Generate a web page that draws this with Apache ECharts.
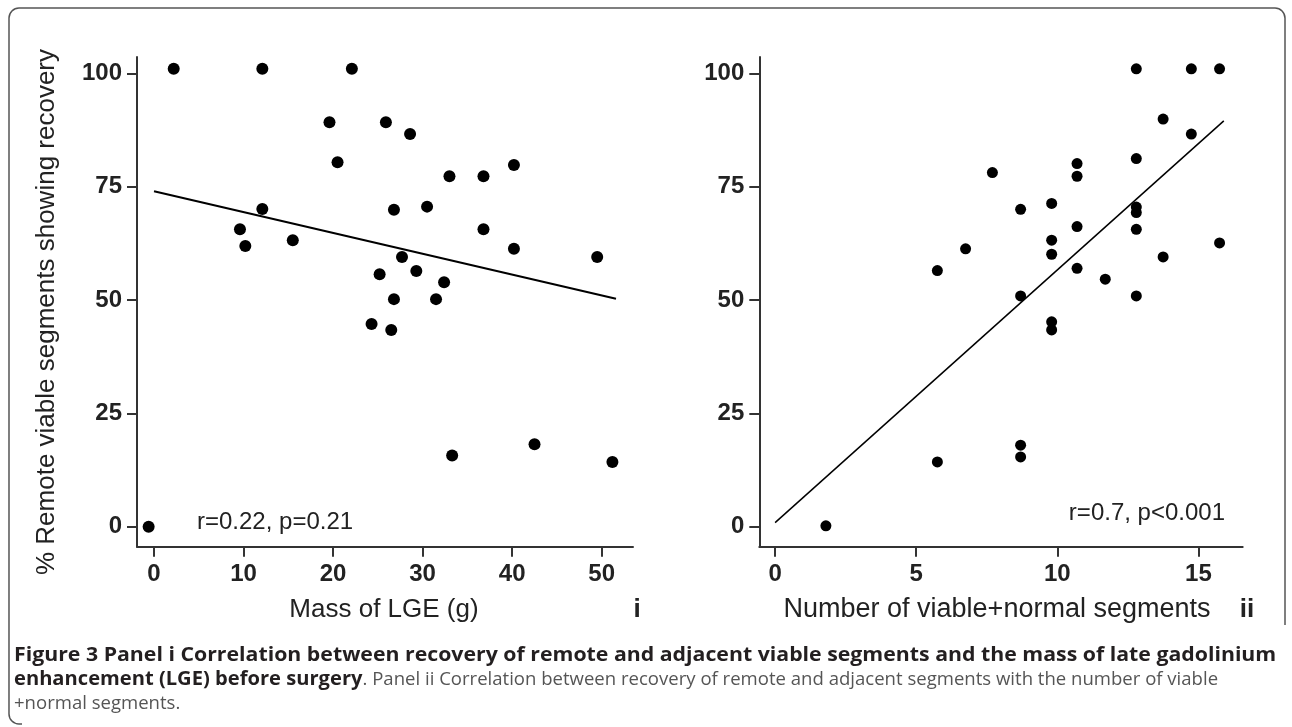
<!DOCTYPE html>
<html>
<head>
<meta charset="utf-8">
<script src="https://cdn.jsdelivr.net/npm/echarts@6/dist/echarts.min.js"></script>
<style>
html,body{margin:0;padding:0;background:#fff;}
#chart{width:1292px;height:727px;}
</style>
</head>
<body>
<div id="chart"></div>
<script>
// Panel i: mass of LGE (g) vs % recovery
const massLGE = [2.2, 12.1, 22.1, 19.6, 25.9, 28.6, 20.5, 40.2, 33.0, 36.8, 12.1, 26.8, 30.5, 9.6, 36.8, 10.2, 15.5, 40.2, 27.7, 49.5, 25.2, 29.3, 32.4, 26.8, 31.5, 24.3, 26.5, 33.3, 42.5, 51.2, -0.6];
const recoveryI = [101, 101, 101, 89.2, 89.2, 86.6, 80.4, 79.8, 77.3, 77.3, 70.1, 69.9, 70.6, 65.6, 65.6, 61.9, 63.2, 61.3, 59.5, 59.5, 55.7, 56.4, 53.9, 50.2, 50.2, 44.7, 43.4, 15.7, 18.2, 14.3, 0];
const fitIX = [0, 51.6];
const fitIY = [74.0, 50.3];

// Panel ii: number of viable+normal segments vs % recovery
const segmentsII = [12.8, 14.75, 15.75, 13.75, 14.75, 12.8, 7.7, 10.7, 10.7, 9.8, 8.7, 12.8, 12.8, 10.7, 12.8, 9.8, 15.75, 6.75, 9.8, 13.75, 5.75, 10.7, 11.7, 8.7, 12.8, 9.8, 9.8, 8.7, 8.7, 5.75, 1.8];
const recoveryII = [101, 101, 101, 89.9, 86.6, 81.2, 78.1, 80.1, 77.3, 71.3, 70.0, 70.5, 69.3, 66.2, 65.6, 63.2, 62.6, 61.3, 60.1, 59.5, 56.5, 57.0, 54.6, 50.9, 50.9, 45.2, 43.4, 18.0, 15.4, 14.3, 0.2];
const fitIIX = [0, 15.9];
const fitIIY = [0.9, 89.5];

const yTicks = [0, 25, 50, 75, 100];
const xTicksI = [0, 10, 20, 30, 40, 50];
const xTicksII = [0, 5, 10, 15];

const zip = (a, b) => a.map((v, i) => [v, b[i]]);

const AX = '#333';
const LBL = '#222';
const tickFont = {fontFamily: "'Liberation Sans', Arial, sans-serif", fontWeight: 'bold', fontSize: 24, color: LBL};

function xAxisCfg(idx, min, max, ticks) {
  return {
    type: 'value', gridIndex: idx, min: min, max: max,
    axisLine: {show: true, onZero: false, lineStyle: {color: AX, width: 2}},
    axisTick: {show: true, length: 10, customValues: ticks, lineStyle: {color: AX, width: 2}},
    axisLabel: Object.assign({show: true, margin: 16, customValues: ticks}, tickFont),
    splitLine: {show: false}
  };
}
function yAxisCfg(idx) {
  return {
    type: 'value', gridIndex: idx, min: -4.4, max: 103.6,
    axisLine: {show: true, onZero: false, lineStyle: {color: AX, width: 2}},
    axisTick: {show: true, length: 10, customValues: yTicks, lineStyle: {color: AX, width: 2}},
    axisLabel: Object.assign({show: true, margin: 15, customValues: yTicks}, tickFont),
    splitLine: {show: false}
  };
}

const chart = echarts.init(document.getElementById('chart'), null, {renderer: 'canvas'});
const arial = "'Liberation Sans', Arial, sans-serif";
const capFont = "'Open Sans', 'Noto Sans', sans-serif";

chart.setOption({
  backgroundColor: '#fff',
  animation: false,
  grid: [
    {left: 137, top: 57, width: 496, height: 489.7, containLabel: false, outerBoundsMode: 'none'},
    {left: 759.3, top: 57, width: 483.4, height: 489.7, containLabel: false, outerBoundsMode: 'none'}
  ],
  xAxis: [xAxisCfg(0, -1.9, 53.5, xTicksI), xAxisCfg(1, -0.56, 16.57, xTicksII)],
  yAxis: [yAxisCfg(0), yAxisCfg(1)],
  series: [
    {type: 'line', xAxisIndex: 0, yAxisIndex: 0, data: zip(fitIX, fitIY), symbol: 'none', lineStyle: {color: '#000', width: 2}, z: 2},
    {type: 'scatter', xAxisIndex: 0, yAxisIndex: 0, data: zip(massLGE, recoveryI), symbolSize: 12, itemStyle: {color: '#000', opacity: 1}, z: 3},
    {type: 'line', xAxisIndex: 1, yAxisIndex: 1, data: zip(fitIIX, fitIIY), symbol: 'none', lineStyle: {color: '#000', width: 1.5}, z: 2},
    {type: 'scatter', xAxisIndex: 1, yAxisIndex: 1, data: zip(segmentsII, recoveryII), symbolSize: 11, itemStyle: {color: '#000', opacity: 1}, z: 3}
  ],
  graphic: [
    {type: 'rect', z: 0, shape: {x: 9, y: 8, width: 1276, height: 716, r: 10}, style: {fill: null, stroke: '#555', lineWidth: 1.5}},
    {type: 'rect', z: 1, shape: {x: 1200, y: 625, width: 92, height: 102}, style: {fill: '#fff'}},
    {type: 'rect', z: 1, shape: {x: 22, y: 721, width: 1270, height: 6}, style: {fill: '#fff'}},
    {type: 'text', z: 10, x: 47, y: 312, rotation: Math.PI / 2, style: {text: '% Remote viable segments showing recovery', fontFamily: arial, fontSize: 26, fill: LBL, align: 'center', verticalAlign: 'middle'}},
    {type: 'text', z: 10, x: 384, y: 610, style: {text: 'Mass of LGE (g)', fontFamily: arial, fontSize: 26, fill: LBL, align: 'center', verticalAlign: 'middle'}},
    {type: 'text', z: 10, x: 637, y: 610, style: {text: 'i', fontFamily: arial, fontWeight: 'bold', fontSize: 26, fill: LBL, align: 'center', verticalAlign: 'middle'}},
    {type: 'text', z: 10, x: 997, y: 610, style: {text: 'Number of viable+normal segments', fontFamily: arial, fontSize: 27, fill: LBL, align: 'center', verticalAlign: 'middle'}},
    {type: 'text', z: 10, x: 1247, y: 610, style: {text: 'ii', fontFamily: arial, fontWeight: 'bold', fontSize: 26, fill: LBL, align: 'center', verticalAlign: 'middle'}},
    {type: 'text', z: 10, x: 197, y: 522, style: {text: 'r=0.22, p=0.21', fontFamily: arial, fontSize: 24, fill: LBL, align: 'left', verticalAlign: 'middle'}},
    {type: 'text', z: 10, x: 1225, y: 513, style: {text: 'r=0.7, p<0.001', fontFamily: arial, fontSize: 24, fill: LBL, align: 'right', verticalAlign: 'middle'}},
    {type: 'text', z: 10, x: 14, y: 656, scaleX: 1.12, originX: 0, originY: 0, style: {text: 'Figure 3 Panel i Correlation between recovery of remote and adjacent viable segments and the mass of late gadolinium', fontFamily: capFont, fontWeight: 'bold', fontSize: 19, fill: '#231f20', align: 'left', verticalAlign: 'middle'}},
    {type: 'text', z: 10, x: 14, y: 680, scaleX: 1.06, originX: 0, originY: 0, style: {text: '{b|enhancement (LGE) before surgery}{n|. Panel ii Correlation between recovery of remote and adjacent segments with the number of viable}', fontFamily: capFont, fontSize: 18, align: 'left', verticalAlign: 'middle',
      rich: {b: {fontFamily: capFont, fontWeight: 'bold', fontSize: 19, fill: '#231f20'}, n: {fontFamily: capFont, fontSize: 17.5, fill: '#555'}}}},
    {type: 'text', z: 10, x: 14, y: 704, scaleX: 1.06, originX: 0, originY: 0, style: {text: '+normal segments.', fontFamily: capFont, fontSize: 17.5, fill: '#555', align: 'left', verticalAlign: 'middle'}}
  ]
});
</script>
</body>
</html>
